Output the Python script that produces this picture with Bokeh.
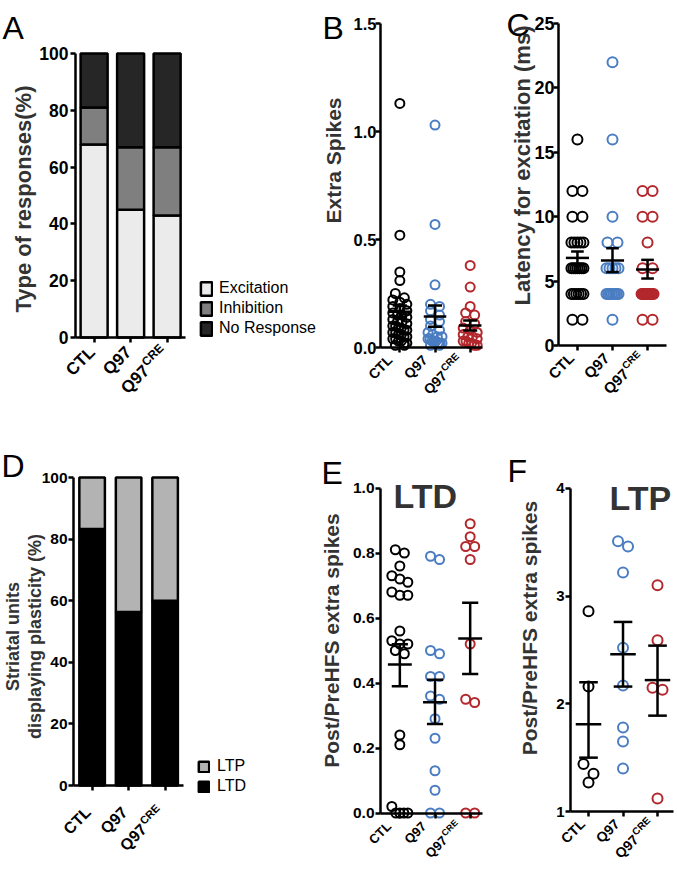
import numpy as np
from math import pi
from bokeh.plotting import figure
from bokeh.layouts import row, column
from bokeh.models import (Range1d, FixedTicker, Label, Legend, LegendItem,
                          ColumnDataSource, CustomJSTickFormatter)
from bokeh.embed import file_html
from bokeh.resources import INLINE

FONT = "Liberation Sans"
TITLE_COLOR = "#333333"
BLUE = "#4a7dc1"
RED = "#b2282d"

# ---------------- data ----------------
groups = ["CTL", "Q97", "Q97CRE"]
cat_main = ["CTL", "Q97", "Q97"]
cat_sup = ["", "", "CRE"]
group_pos = [1, 2, 3]
group_colors = ["black", BLUE, RED]

# A: type of responses (%)
resp_labels = ["Excitation", "Inhibition", "No Response"]
resp_colors = ["#ebebeb", "#7f7f7f", "#262626"]
resp_exc = [68, 45, 43]
resp_inh = [13, 22, 24]
resp_none = [19, 33, 33]

# D: plasticity (%)
plast_labels = ["LTP", "LTD"]
plast_colors = ["#b3b3b3", "#000000"]
plast_ltd = [83.3, 56.3, 60.0]
plast_ltp = [16.7, 43.7, 40.0]

pct_ticks = [0, 20, 40, 60, 80, 100]
pct_tick_labels = ["0", "20", "40", "60", "80", "100"]

# B: extra spikes
b_ctl = [1.13, 0.52, 0.35, 0.31, 0.25, 0.23, 0.22, 0.21, 0.20, 0.19, 0.18, 0.17, 0.16,
         0.15, 0.15, 0.14, 0.13, 0.12, 0.12, 0.11, 0.10, 0.10, 0.09, 0.09, 0.08, 0.08,
         0.07, 0.07, 0.06, 0.06, 0.05, 0.05, 0.04, 0.04, 0.03, 0.03, 0.02, 0.02, 0.01, 0.01]
b_q97 = [1.03, 0.57, 0.29, 0.20, 0.19, 0.17, 0.15, 0.13, 0.12, 0.10, 0.08, 0.07, 0.06,
         0.05, 0.05, 0.04, 0.04, 0.03, 0.03, 0.03, 0.02, 0.02, 0.02, 0.01, 0.01]
b_cre = [0.38, 0.28, 0.19, 0.16, 0.15, 0.12, 0.11, 0.09, 0.08, 0.07, 0.06, 0.05, 0.05,
         0.04, 0.03, 0.03, 0.02, 0.02, 0.01, 0.01]
b_mean = [0.165, 0.143, 0.102]
b_lo = [0.140, 0.096, 0.079]
b_hi = [0.194, 0.194, 0.125]
b_ticks = [0, 0.5, 1.0, 1.5]
b_tick_labels = ["0.0", "0.5", "1.0", "1.5"]

# C: latency for excitation (ms)
c_ctl = [16, 12, 12, 10, 10, 8, 8, 8, 8, 8, 6, 6, 6, 6, 6, 6, 6, 4, 4, 4, 4, 4, 4, 2, 2]
c_q97 = [22, 16, 10, 8, 8, 6, 6, 6, 6, 6, 4, 4, 4, 4, 4, 4, 4, 4, 2]
c_cre = [12, 12, 10, 10, 8, 6, 6, 4, 4, 4, 4, 4, 4, 4, 4, 4, 4, 4, 4, 2, 2]
c_mean = [6.8, 6.6, 5.9]
c_lo = [6.3, 5.7, 5.2]
c_hi = [7.3, 7.55, 6.65]
c_ticks = [0, 5, 10, 15, 20, 25]
c_tick_labels = ["0", "5", "10", "15", "20", "25"]

# E: LTD post/pre HFS extra spikes
e_ctl = [0.81, 0.80, 0.76, 0.73, 0.72, 0.71, 0.68, 0.67, 0.67, 0.56, 0.53, 0.52, 0.52,
         0.50, 0.49, 0.24, 0.21, 0.02, 0.0, 0.0, 0.0, 0.0]
e_q97 = [0.79, 0.78, 0.50, 0.49, 0.42, 0.42, 0.36, 0.35, 0.29, 0.23, 0.13, 0.07, 0.0, 0.0]
e_cre = [0.89, 0.85, 0.82, 0.82, 0.78, 0.52, 0.35, 0.34, 0.0, 0.0]
e_mean = [0.457, 0.341, 0.537]
e_lo = [0.390, 0.274, 0.428]
e_hi = [0.519, 0.410, 0.647]
e_ticks = [0, 0.2, 0.4, 0.6, 0.8, 1.0]
e_tick_labels = ["0.0", "0.2", "0.4", "0.6", "0.8", "1.0"]

# F: LTP post/pre HFS extra spikes
f_ctl = [2.86, 2.16, 1.44, 1.35, 1.27]
f_q97 = [3.51, 3.46, 3.22, 2.52, 2.17, 1.78, 1.65, 1.40]
f_cre = [3.10, 2.59, 2.15, 2.13, 1.12]
f_mean = [1.81, 2.46, 2.22]
f_lo = [1.50, 2.16, 1.89]
f_hi = [2.20, 2.76, 2.54]
f_ticks = [1, 2, 3, 4]
f_tick_labels = ["1", "2", "3", "4"]


# ---------------- layout helpers ----------------
class Panel:
    """Maps page pixels to data units for one figure whose frame fills the figure."""
    def __init__(self, fx, fy, w, h, xa, xa_px, ppx, ya, ya_px, ppy):
        self.fx, self.fy, self.w, self.h = fx, fy, w, h
        self.xa, self.xa_px, self.ppx = xa, xa_px, ppx
        self.ya, self.ya_px, self.ppy = ya, ya_px, ppy

    def x(self, px):
        return self.xa + (px - self.xa_px) / self.ppx

    def y(self, py):
        return self.ya + (self.ya_px - py) / self.ppy


def make_fig(P, xbounds, ybounds, yticks):
    p = figure(width=P.w, height=P.h,
               x_range=Range1d(P.x(P.fx), P.x(P.fx + P.w)),
               y_range=Range1d(P.y(P.fy + P.h), P.y(P.fy)),
               x_axis_location="above", y_axis_location="right",
               output_backend="svg", toolbar_location=None,
               min_border=0, min_border_left=0, min_border_right=0,
               min_border_top=0, min_border_bottom=0)
    p.grid.visible = False
    p.outline_line_color = None
    p.background_fill_color = "white"
    p.border_fill_color = "white"
    for ax in p.axis:
        ax.axis_line_width = 2.5
        ax.axis_line_color = "black"
        ax.major_tick_line_width = 2.5
        ax.major_tick_line_color = "black"
        ax.major_tick_in = 5
        ax.major_tick_out = 0
        ax.minor_tick_line_color = None
        ax.major_label_text_color = None
        ax.major_label_standoff = 0
        ax.formatter = CustomJSTickFormatter(code="return ''")
    p.xaxis.ticker = FixedTicker(ticks=group_pos)
    p.xaxis.bounds = xbounds
    p.xaxis.fixed_location = ybounds[0]
    p.yaxis.ticker = FixedTicker(ticks=yticks)
    p.yaxis.bounds = ybounds
    p.yaxis.fixed_location = xbounds[0]
    return p


def add_text(p, text, x, y, dx=0, dy=0, size=14, style="normal", color="black",
             align="left", baseline="alphabetic", angle=0.0):
    p.add_layout(Label(x=x, y=y, x_units="data", y_units="data", x_offset=dx, y_offset=dy,
                       text=text, text_font=FONT, text_font_size=f"{size}px",
                       text_font_style=style, text_color=color, text_align=align,
                       text_baseline=baseline, angle=angle))


def y_tick_labels(p, xaxis_x, ticks, labels, size, gap):
    for t, s in zip(ticks, labels):
        add_text(p, s, xaxis_x, t, dx=-gap, dy=0, size=size, style="bold",
                 align="right", baseline="middle")


def v_title(p, P, text, cx, cy, size):
    add_text(p, text, P.x(cx), P.y(cy), size=size, style="bold", color=TITLE_COLOR,
             align="center", baseline="middle", angle=pi / 2)


def letter(p, P, text, left, base, size=32):
    add_text(p, text, P.x(left), P.y(base), size=size)


def cat_labels(p, axis_y, size, dx, dy):
    c = 0.7071
    sup_size = round(size * 0.7)
    for xi, main, sup in zip(group_pos, cat_main, cat_sup):
        if sup:
            w = 2.11 * sup_size + 1
            r = 0.3 * size
            add_text(p, sup, xi, axis_y, dx - r * c, dy + r * c, sup_size, "bold",
                     align="right", baseline="middle", angle=pi / 4)
            add_text(p, main, xi, axis_y, dx - w * c, dy - w * c, size, "bold",
                     align="right", baseline="middle", angle=pi / 4)
        else:
            add_text(p, main, xi, axis_y, dx, dy, size, "bold",
                     align="right", baseline="middle", angle=pi / 4)


def swarm_x(vals, pos, ppx, ppy, d, maxhalf, thr):
    vals = np.asarray(vals, float)
    order = np.argsort(-vals, kind="stable")
    off = np.zeros(len(vals))
    rows, cur = [], []
    for i in order:
        if cur and (vals[cur[0]] - vals[i]) * ppy >= d * thr:
            rows.append(cur)
            cur = []
        cur.append(i)
    if cur:
        rows.append(cur)
    for r in rows:
        n = len(r)
        if n > 1:
            sp = min(d, 2.0 * maxhalf / (n - 1))
            for k, i in enumerate(r):
                off[i] = (k - (n - 1) / 2) * sp
    return pos + off / ppx


def draw_scatter(p, P, series, means, los, his, d, maxhalf, thr, mhw, chw):
    for pos, vals, col in zip(group_pos, series, group_colors):
        xs = swarm_x(vals, pos, P.ppx, P.ppy, d, maxhalf, thr)
        p.scatter(x=xs, y=vals, marker="circle", size=d, fill_color=None,
                  line_color=col, line_width=2)
    gp = np.array(group_pos, float)
    kw = dict(line_color="black", line_width=2.5)
    p.segment(x0=gp - mhw, x1=gp + mhw, y0=means, y1=means, **kw)
    p.segment(x0=gp, x1=gp, y0=los, y1=his, **kw)
    p.segment(x0=gp - chw, x1=gp + chw, y0=his, y1=his, **kw)
    p.segment(x0=gp - chw, x1=gp + chw, y0=los, y1=los, **kw)


def style_legend(leg, gw, gh, lh, size, standoff):
    leg.border_line_color = None
    leg.background_fill_alpha = 0
    leg.padding = 0
    leg.margin = 0
    leg.spacing = 2
    leg.glyph_width = gw
    leg.glyph_height = gh
    leg.label_height = lh
    leg.label_standoff = standoff
    leg.label_text_font = FONT
    leg.label_text_font_size = f"{size}px"
    leg.label_text_color = "black"


R1Y, R1H = 0, 440
R2Y, R2H = 440, 438
AX, AW = 0, 321
BX, BW = 321, 169
CX, CW = 490, 187

# ---------------- Panel A ----------------
PA = Panel(AX, R1Y, AW, R1H, 0.49, 75, 36.5, 0, 337, 2.84)
pA = make_fig(PA, (0.49, 3.50), (0, 100), pct_ticks)
srcA = ColumnDataSource(dict(x=group_pos, exc=resp_exc, inh=resp_inh, none=resp_none))
rA = pA.vbar_stack(["exc", "inh", "none"], x="x", width=0.74, source=srcA,
                   fill_color=resp_colors, line_color="black", line_width=2.5)
legA = Legend(items=[LegendItem(label=lab, renderers=[r]) for lab, r in zip(resp_labels, rA)],
              location=(199 - AX, R1Y + R1H - 337))
style_legend(legA, 14, 17, 17, 16, 6)
pA.add_layout(legA)
y_tick_labels(pA, 0.49, pct_ticks, pct_tick_labels, 17.5, 7)
v_title(pA, PA, "Type of responses(%)", 22.5, 198.5, 22)
cat_labels(pA, 0, 17, -2, -12)
letter(pA, PA, "A", 2, 27)

# ---------------- Panel B ----------------
PB = Panel(BX, R1Y, BW, R1H, 0.45, 380, 35.17, 0, 347, 216)
pB = make_fig(PB, (0.45, 3.35), (0, 1.5), b_ticks)
draw_scatter(pB, PB, [b_ctl, b_q97, b_cre], b_mean, b_lo, b_hi, 9, 7, 0.5, 0.32, 0.2)
y_tick_labels(pB, 0.45, b_ticks, b_tick_labels, 16.5, 4)
v_title(pB, PB, "Extra Spikes", 332.5, 160, 21)
cat_labels(pB, 0, 14, -10, -10)
letter(pB, PB, "B", 322, 27)

# ---------------- Panel C ----------------
PC = Panel(CX, R1Y, CW, R1H, 0.46, 558, 35.06, 0, 345, 12.88)
pC = make_fig(PC, (0.46, 3.54), (0, 25), c_ticks)
draw_scatter(pC, PC, [c_ctl, c_q97, c_cre], c_mean, c_lo, c_hi, 10, 6, 0.8, 0.33, 0.18)
y_tick_labels(pC, 0.46, c_ticks, c_tick_labels, 18, 4)
v_title(pC, PC, "Latency for excitation (ms)", 521.5, 165, 22)
cat_labels(pC, 0, 15, -6, -10)
letter(pC, PC, "C", 506, 24)

# ---------------- Panel D ----------------
PD = Panel(AX, R2Y, AW, R2H, 0.49, 73, 36.5, 0, 785, 3.08)
pD = make_fig(PD, (0.49, 3.50), (0, 100), pct_ticks)
srcD = ColumnDataSource(dict(x=group_pos, ltd=plast_ltd, ltp=plast_ltp))
rD = pD.vbar_stack(["ltd", "ltp"], x="x", width=0.7, source=srcD,
                   fill_color=[plast_colors[1], plast_colors[0]], line_color="black",
                   line_width=2.5)
legD = Legend(items=[LegendItem(label=plast_labels[0], renderers=[rD[1]]),
                     LegendItem(label=plast_labels[1], renderers=[rD[0]])],
              location=(197 - AX, R2Y + R2H - 795))
style_legend(legD, 13, 13, 14, 16, 7)
pD.add_layout(legD)
y_tick_labels(pD, 0.49, pct_ticks, pct_tick_labels, 15.5, 6)
v_title(pD, PD, "Striatal units", 12.5, 636, 18)
v_title(pD, PD, "displaying plasticity (%)", 34.5, 636, 18)
cat_labels(pD, 0, 16, -4, -24)
letter(pD, PD, "D", 1, 465)

# ---------------- Panel E ----------------
PE = Panel(BX, R2Y, BW, R2H, 0.45, 380, 35.17, 0, 812.5, 325)
pE = make_fig(PE, (0.45, 3.35), (0, 1.0), e_ticks)
draw_scatter(pE, PE, [e_ctl, e_q97, e_cre], e_mean, e_lo, e_hi, 9, 8, 1.0, 0.34, 0.23)
y_tick_labels(pE, 0.45, e_ticks, e_tick_labels, 15.5, 6)
v_title(pE, PE, "Post/PreHFS extra spikes", 331, 640, 21)
cat_labels(pE, 0, 13, -11, -11)
letter(pE, PE, "E", 321, 472)
add_text(pE, "LTD", PE.x(393), PE.y(495), size=34, style="bold", color=TITLE_COLOR)

# ---------------- Panel F ----------------
PF = Panel(CX, R2Y, CW, R2H, 0.478, 570, 34.5, 1, 811, 107.7)
pF = make_fig(PF, (0.478, 3.463), (1, 4), f_ticks)
draw_scatter(pF, PF, [f_ctl, f_q97, f_cre], f_mean, f_lo, f_hi, 10, 10, 1.0, 0.37, 0.27)
y_tick_labels(pF, 0.478, f_ticks, f_tick_labels, 15, 6)
v_title(pF, PF, "Post/PreHFS extra spikes", 528.5, 627.5, 21)
cat_labels(pF, 1, 14, -6, -10)
letter(pF, PF, "F", 507, 470)
add_text(pF, "LTP", PF.x(609), PF.y(497), size=34, style="bold", color=TITLE_COLOR)

layout = column(row(pA, pB, pC), row(pD, pE, pF))
open("out.html", "w").write(file_html(layout, INLINE))
